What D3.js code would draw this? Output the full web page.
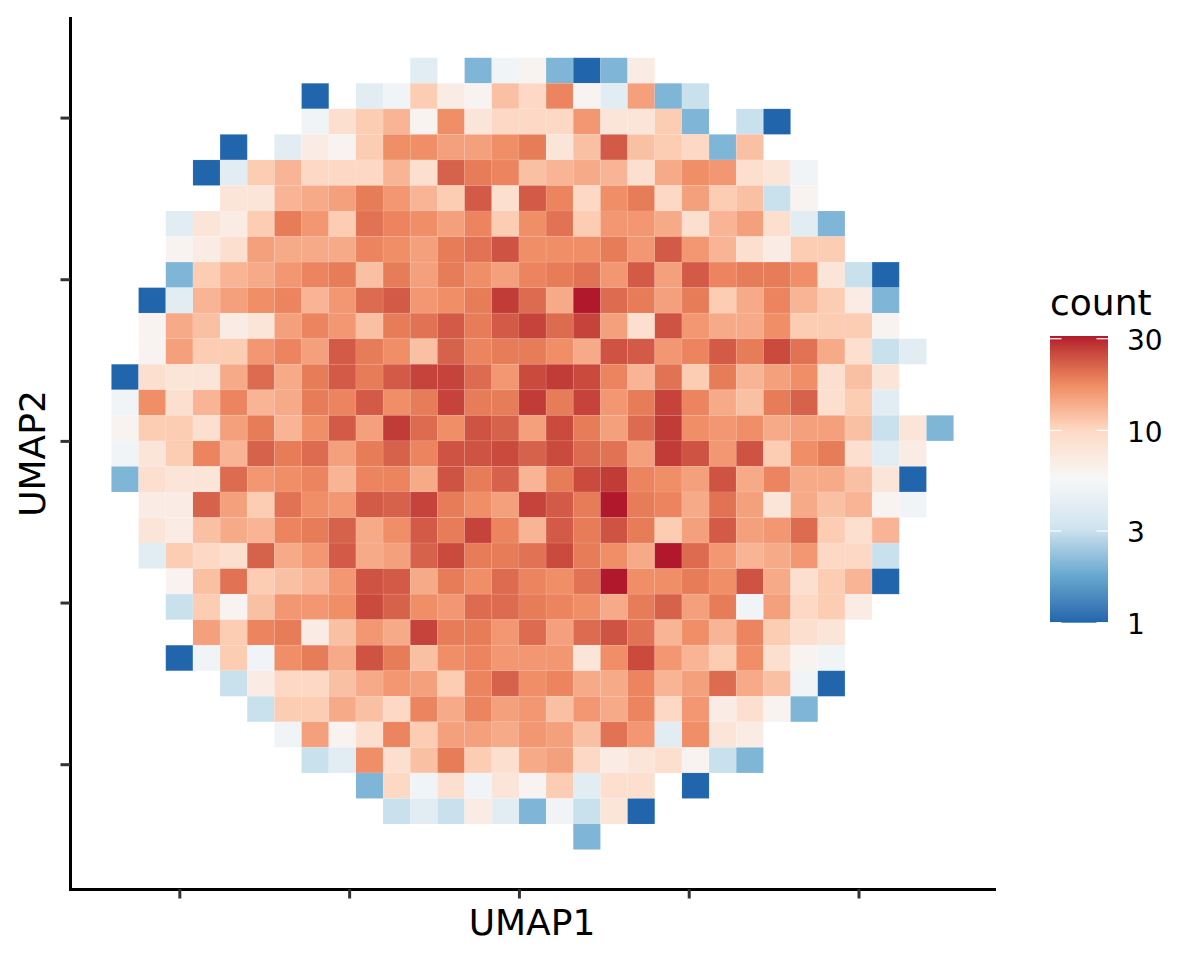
<!DOCTYPE html>
<html>
<head>
<meta charset="utf-8">
<script src="https://cdn.jsdelivr.net/npm/d3@7"></script>
<style>
  body { margin: 0; background: #fff; }
  text { font-family: "DejaVu Sans", sans-serif; fill: #000; }
</style>
</head>
<body>
<div id="chart"></div>
<script>
// Hexbin-style counts, one row per UMAP2 bin (top to bottom).
// rowStart is the first UMAP1 bin filled in that row, 0 = empty bin.
const rowStart = [11, 7, 7, 4, 3, 4, 2, 2, 2, 1, 1, 1, 0, 0, 0, 0, 0, 1, 1, 1, 2, 2, 3, 2, 4, 5, 6, 7, 9, 10, 17];
const rowCounts = [
  [4, 0, 2, 5, 6, 2, 1, 2, 7],
  [1, 0, 4, 5, 11, 7, 6, 12, 10, 18, 6, 4, 15, 2, 3],
  [5, 9, 11, 13, 6, 17, 8, 10, 10, 10, 16, 8, 8, 11, 2, 0, 3, 1],
  [1, 0, 4, 7, 6, 11, 17, 17, 15, 15, 17, 19, 8, 12, 23, 12, 11, 10, 2, 12],
  [1, 4, 11, 13, 10, 10, 10, 13, 9, 22, 19, 18, 12, 13, 14, 13, 9, 14, 17, 16, 9, 8, 5],
  [8, 8, 13, 14, 15, 19, 16, 13, 11, 23, 9, 23, 18, 10, 17, 19, 10, 15, 11, 12, 3, 6],
  [4, 8, 7, 11, 19, 16, 11, 20, 18, 17, 15, 18, 11, 17, 20, 11, 16, 16, 14, 9, 13, 15, 9, 4, 2],
  [6, 7, 9, 15, 14, 14, 14, 18, 17, 15, 19, 20, 24, 17, 17, 17, 19, 16, 23, 16, 13, 9, 7, 11, 11],
  [2, 11, 13, 14, 16, 18, 19, 12, 19, 15, 19, 17, 15, 18, 19, 20, 16, 23, 15, 23, 18, 19, 19, 17, 8, 3, 1],
  [1, 4, 13, 15, 17, 18, 13, 16, 21, 23, 16, 17, 19, 27, 21, 14, 31, 21, 19, 15, 19, 11, 14, 18, 13, 11, 7, 2],
  [6, 14, 12, 7, 8, 15, 18, 16, 12, 19, 20, 23, 19, 23, 26, 21, 26, 15, 9, 24, 16, 14, 14, 17, 11, 11, 11, 6],
  [6, 15, 11, 11, 16, 18, 15, 23, 19, 17, 12, 22, 18, 19, 19, 17, 14, 24, 23, 16, 18, 23, 19, 25, 20, 14, 9, 3, 4],
  [1, 9, 8, 8, 14, 21, 14, 19, 23, 19, 23, 26, 26, 21, 16, 25, 27, 25, 18, 13, 20, 11, 19, 13, 15, 17, 9, 12, 8],
  [5, 17, 9, 13, 18, 13, 14, 19, 18, 23, 17, 19, 26, 19, 19, 27, 19, 26, 16, 19, 26, 18, 14, 12, 19, 22, 9, 11, 4],
  [6, 11, 11, 9, 15, 19, 13, 17, 23, 15, 27, 21, 17, 24, 22, 15, 25, 19, 15, 21, 27, 17, 16, 17, 14, 15, 15, 12, 3, 8, 2],
  [5, 8, 11, 18, 13, 22, 19, 21, 15, 19, 22, 18, 24, 24, 25, 22, 25, 21, 20, 15, 27, 24, 16, 24, 11, 17, 19, 9, 4, 7],
  [2, 9, 8, 8, 21, 16, 17, 18, 13, 18, 18, 14, 24, 19, 22, 13, 19, 25, 27, 18, 17, 15, 24, 14, 18, 14, 14, 12, 8, 1],
  [7, 7, 22, 15, 11, 20, 17, 16, 23, 22, 26, 19, 17, 15, 26, 23, 19, 31, 19, 18, 14, 20, 15, 8, 14, 12, 13, 6, 5],
  [8, 7, 12, 14, 13, 18, 19, 22, 14, 17, 23, 19, 26, 18, 13, 23, 19, 24, 19, 11, 15, 23, 15, 16, 21, 11, 9, 13],
  [4, 11, 10, 9, 22, 14, 16, 23, 14, 15, 22, 25, 19, 19, 20, 25, 19, 17, 14, 31, 21, 16, 13, 14, 16, 10, 10, 3],
  [6, 12, 20, 11, 12, 13, 16, 24, 23, 14, 19, 17, 21, 18, 17, 20, 31, 17, 17, 19, 17, 24, 14, 9, 11, 13, 1],
  [3, 11, 6, 12, 16, 16, 17, 25, 22, 17, 16, 21, 21, 19, 18, 17, 14, 19, 22, 15, 19, 5, 15, 10, 11, 7],
  [15, 11, 18, 19, 7, 12, 16, 14, 26, 19, 19, 16, 21, 15, 21, 24, 20, 13, 17, 13, 18, 11, 9, 8],
  [1, 5, 11, 5, 17, 19, 14, 24, 19, 12, 17, 18, 16, 16, 16, 8, 17, 25, 16, 13, 11, 17, 9, 6, 5],
  [3, 7, 10, 10, 12, 14, 16, 15, 11, 18, 22, 17, 18, 14, 14, 18, 13, 15, 21, 14, 12, 5, 1],
  [3, 11, 11, 14, 12, 10, 18, 14, 18, 15, 16, 12, 16, 14, 18, 10, 16, 7, 9, 6, 2],
  [5, 15, 6, 9, 18, 11, 15, 15, 14, 16, 15, 12, 20, 16, 4, 17, 8, 7],
  [3, 4, 17, 9, 12, 19, 11, 9, 14, 15, 10, 7, 8, 9, 6, 3, 2],
  [2, 10, 5, 9, 5, 8, 6, 11, 4, 9, 9, 0, 1],
  [3, 4, 3, 7, 4, 2, 5, 3, 8, 1],
  [2]
];

// Bins and axes (the ticks carry no labels in the original)
const xBinStart = -12;
const xBinSize = 0.8;
const yBinStart = 11.85;
const yBinSize = 0.79;
const xTicks = [-10, -5, 0, 5, 10];
const yTicks = [-10, -5, 0, 5, 10];

// Colour legend
const legendBreaks = [1, 3, 10, 30];
const countMax = 31;
const palette = ["#2166ac", "#67a9cf", "#d1e5f0", "#f7f7f7", "#fddbc7", "#ef8a62", "#b2182b"];

const DIMENSIONS = {
  width: 1200,
  height: 960,
  margin: {top: 18, right: 206, bottom: 71, left: 70}
};
const LEGEND = {left: 1050, width: 58, top: 336, bottom: 622.7, tick: 11.5};

const svg = d3.select("#chart").append("svg")
  .attr("width", DIMENSIONS.width)
  .attr("height", DIMENSIONS.height)
  .style("display", "block");

const x = d3.scaleLinear()
  .domain([-13.22, 13.99])
  .range([DIMENSIONS.margin.left, DIMENSIONS.width - DIMENSIONS.margin.right]);

const y = d3.scaleLinear()
  .domain([-13.86, 13.08])
  .range([DIMENSIONS.height - DIMENSIONS.margin.bottom, DIMENSIONS.margin.top]);

// log10 count -> RdBu, interpolated in Lab like ggplot does
const position = d3.scaleLog().domain([1, countMax]).range([0, 1]);
const ramp = d3.scaleLinear()
  .domain(palette.map((d, i) => i / (palette.length - 1)))
  .range(palette)
  .interpolate(d3.interpolateLab);
const fill = d => ramp(position(d));

const cells = rowCounts.flatMap((row, r) => row.map((count, i) => ({
  col: rowStart[r] + i,
  row: r,
  count
}))).filter(d => d.count > 0);

// faint white edge, the original tiles show a thin lighter seam
svg.append("g")
  .selectAll("rect")
  .data(cells)
  .join("rect")
  .attr("x", d => x(xBinStart + d.col * xBinSize))
  .attr("y", d => y(yBinStart - d.row * yBinSize))
  .attr("width", x(xBinSize) - x(0))
  .attr("height", y(0) - y(yBinSize))
  .attr("fill", d => fill(d.count))
  .attr("stroke", "#fff")
  .attr("stroke-opacity", 0.07)
  .attr("stroke-width", 1);

// Axes
const xAxis = svg.append("g")
  .attr("transform", `translate(0,${y.range()[0]})`)
  .call(d3.axisBottom(x).tickValues(xTicks).tickFormat("").tickSize(9.5).tickSizeOuter(0));

const yAxis = svg.append("g")
  .attr("transform", `translate(${x.range()[0]},0)`)
  .call(d3.axisLeft(y).tickValues(yTicks).tickFormat("").tickSize(9.5).tickSizeOuter(0));

[xAxis, yAxis].forEach(axis => {
  axis.select(".domain").attr("stroke", "#000").attr("stroke-width", 3).attr("stroke-linecap", "square");
  axis.selectAll(".tick line").attr("stroke", "#333").attr("stroke-width", 3);
});

svg.append("text")
  .attr("x", (x.range()[0] + x.range()[1]) / 2)
  .attr("y", 935)
  .attr("text-anchor", "middle")
  .attr("font-size", "36px")
  .text("UMAP1");

svg.append("text")
  .attr("transform", "rotate(-90)")
  .attr("x", -(y.range()[0] + y.range()[1]) / 2)
  .attr("y", 45)
  .attr("text-anchor", "middle")
  .attr("font-size", "36px")
  .text("UMAP2");

// Legend
const legendY = d3.scaleLog()
  .domain([1, countMax])
  .range([LEGEND.bottom, LEGEND.top]);

const gradient = svg.append("defs").append("linearGradient")
  .attr("id", "count-ramp")
  .attr("x1", 0).attr("x2", 0).attr("y1", 1).attr("y2", 0);

gradient.selectAll("stop")
  .data(d3.range(0, 1.001, 0.02))
  .join("stop")
  .attr("offset", d => d)
  .attr("stop-color", d => ramp(d));

svg.append("rect")
  .attr("x", LEGEND.left)
  .attr("y", LEGEND.top)
  .attr("width", LEGEND.width)
  .attr("height", LEGEND.bottom - LEGEND.top)
  .attr("fill", "url(#count-ramp)");

const legendTicks = svg.append("g")
  .selectAll("g")
  .data(legendBreaks)
  .join("g")
  .attr("transform", d => `translate(0,${legendY(d)})`);

legendTicks.append("line")
  .attr("x1", LEGEND.left)
  .attr("x2", LEGEND.left + LEGEND.tick)
  .attr("stroke", "#fff")
  .attr("stroke-width", 1.2);

legendTicks.append("line")
  .attr("x1", LEGEND.left + LEGEND.width - LEGEND.tick)
  .attr("x2", LEGEND.left + LEGEND.width)
  .attr("stroke", "#fff")
  .attr("stroke-width", 1.2);

legendTicks.append("text")
  .attr("x", 1127)
  .attr("y", 1)
  .attr("dy", "0.36em")
  .attr("font-size", "28px")
  .text(d => d);

svg.append("text")
  .attr("x", 1050)
  .attr("y", 315)
  .attr("font-size", "36px")
  .text("count");
</script>
</body>
</html>
